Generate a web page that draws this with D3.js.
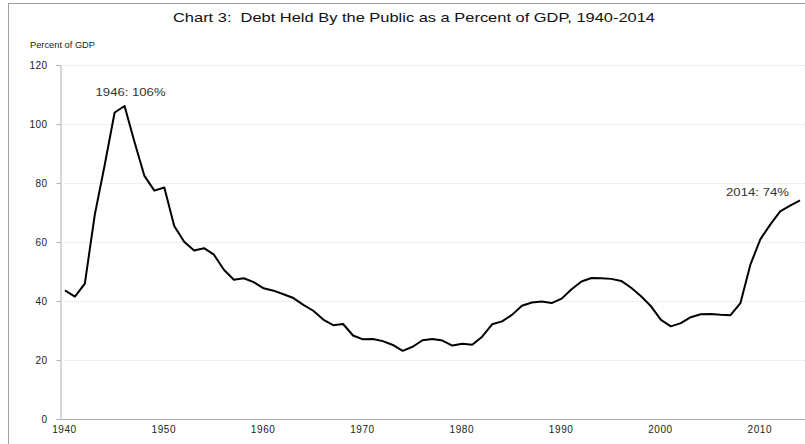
<!DOCTYPE html>
<html>
<head>
<meta charset="utf-8">
<script src="https://cdn.jsdelivr.net/npm/d3@7"></script>
<style>
  body { margin: 0; background: #fff; }
  svg { display: block; font-family: "Liberation Sans", Arial, sans-serif; }
</style>
</head>
<body>
<svg></svg>
<script>
// данные: долг в руках публики, % ВВП
const years = d3.range(1940, 2015);
const debt = [
    43.6, 41.5, 45.9, 69.2, 86.1, 103.9, 106.1, 93.9, 82.4, 77.4,
    78.5, 65.4, 60.1, 57.1, 57.9, 55.7, 50.6, 47.2, 47.7, 46.4,
    44.3, 43.5, 42.3, 41.0, 38.7, 36.7, 33.7, 31.8, 32.2, 28.3,
    27.0, 27.1, 26.4, 25.1, 23.1, 24.5, 26.7, 27.1, 26.6, 24.9,
    25.5, 25.2, 27.9, 32.1, 33.1, 35.3, 38.4, 39.5, 39.8, 39.3,
    40.8, 44.0, 46.6, 47.8, 47.7, 47.5, 46.8, 44.5, 41.6, 38.2,
    33.6, 31.4, 32.5, 34.5, 35.5, 35.6, 35.3, 35.2, 39.3, 52.3,
    60.9, 65.9, 70.4, 72.3, 74.1
];
const yTicks = [0, 20, 40, 60, 80, 100, 120];
const xTicks = [1940, 1950, 1960, 1970, 1980, 1990, 2000, 2010];
const notes = [
    { year: 1946, text: "1946: 106%" },
    { year: 2014, text: "2014: 74%" }
];

const width = 805, height = 444;
const svg = d3.select("svg").attr("width", width).attr("height", height);

// рамка
svg.append("rect")
    .attr("x", 8.5).attr("y", 3.5)
    .attr("width", 900).attr("height", 600)
    .style("fill", "none").style("stroke", "#a0a0a0");

const plotLeft = 60, plotRight = 805, plotTop = 65, plotBottom = 419;

const x = d3.scalePoint().domain(years).range([plotLeft, plotRight]).padding(0.5);
const y = d3.scaleLinear().domain([0, 120]).range([plotBottom, plotTop]);

// сетка
svg.append("g")
    .selectAll("line")
    .data(yTicks.filter(d => d > 0))
    .join("line")
    .attr("x1", plotLeft).attr("x2", plotRight)
    .attr("y1", d => y(d) + 0.5).attr("y2", d => y(d) + 0.5)
    .style("stroke", "#e2e2cf")
    .style("stroke-dasharray", "1,1");

// ось Y
const yAxis = svg.append("g")
    .attr("transform", `translate(${plotLeft + 0.5},0)`)
    .call(d3.axisLeft(y).tickValues(yTicks).tickSize(4).tickPadding(9));
yAxis.select(".domain").style("stroke", "#b0b0b0");
yAxis.selectAll(".tick line").style("stroke", "#b0b0b0");
yAxis.selectAll(".tick text")
    .style("font-size", "10px").style("letter-spacing", "0.4px").style("fill", "#222");

// ось X
const xAxis = svg.append("g")
    .attr("transform", `translate(0,${plotBottom + 0.5})`)
    .call(d3.axisBottom(x).tickValues(xTicks).tickSize(0).tickPadding(6));
xAxis.select(".domain").attr("d", `M${plotLeft},0H${plotRight}`).style("stroke", "#b0b0b0");
xAxis.selectAll(".tick text")
    .attr("dx", -1)
    .style("font-size", "10px").style("letter-spacing", "0.6px").style("fill", "#222");

// линия
const line = d3.line()
    .x((d, i) => x(years[i]))
    .y(d => y(d));

svg.append("path")
    .datum(debt)
    .attr("d", line)
    .style("fill", "none")
    .style("stroke", "#000")
    .style("stroke-width", 2)
    .style("stroke-linejoin", "round");

// подписи
svg.append("text")
    .attr("x", 173).attr("y", 22)
    .attr("textLength", 482)
    .attr("lengthAdjust", "spacingAndGlyphs")
    .style("font-size", "13px")
    .style("white-space", "pre")
    .style("fill", "#111")
    .text("Chart 3:  Debt Held By the Public as a Percent of GDP, 1940-2014");

svg.append("text")
    .attr("x", 30).attr("y", 48)
    .attr("textLength", 65)
    .attr("lengthAdjust", "spacingAndGlyphs")
    .style("font-size", "9.5px")
    .style("fill", "#222")
    .text("Percent of GDP");

// подписи точек: смещения от самой точки
const noteOffset = { 1946: { dx: -29, dy: -10, w: 70 }, 2014: { dx: -74, dy: -4, w: 63 } };
svg.append("g")
    .selectAll("text")
    .data(notes)
    .join("text")
    .attr("x", d => x(d.year) + noteOffset[d.year].dx)
    .attr("y", d => y(debt[years.indexOf(d.year)]) + noteOffset[d.year].dy)
    .attr("textLength", d => noteOffset[d.year].w)
    .attr("lengthAdjust", "spacingAndGlyphs")
    .style("font-size", "11px")
    .style("fill", "#333")
    .text(d => d.text);
</script>
</body>
</html>
